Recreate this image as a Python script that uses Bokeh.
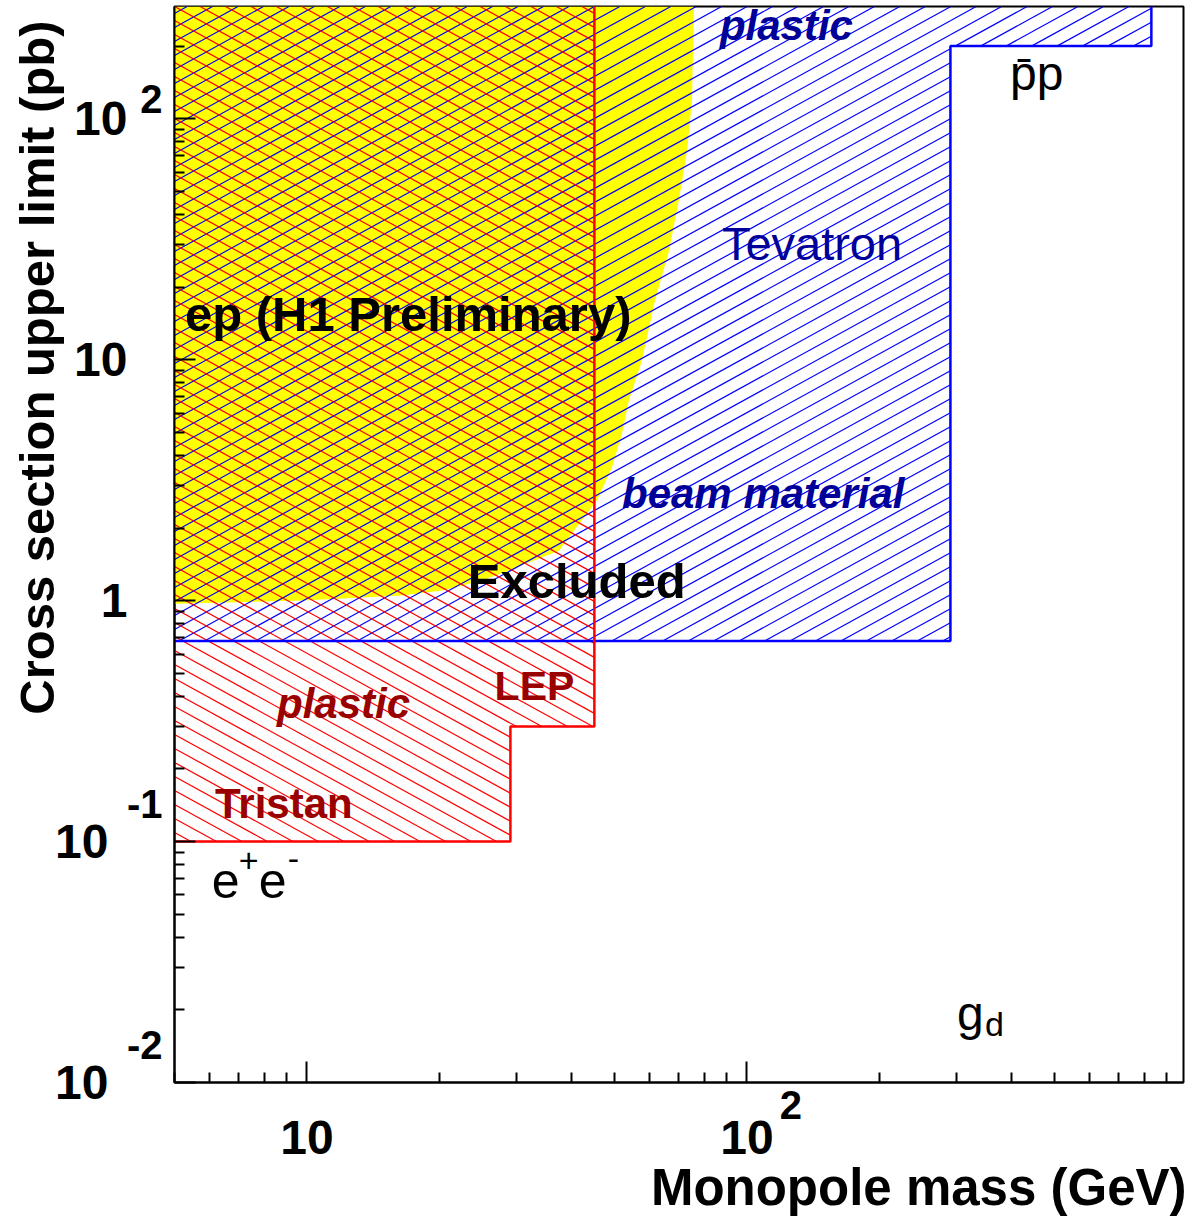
import math
from bokeh.plotting import figure
from bokeh.models import Label, FixedTicker, LogAxis, Title
from bokeh.embed import file_html
from bokeh.resources import INLINE

# ---- axis ranges -------------------------------------------------------
x_lo, x_hi = 5.0, 982.0        # monopole mass (GeV)
y_lo, y_hi = 0.01, 292.0       # cross-section upper limit (pb)

# ---- ep limit (H1 preliminary), region above/left is excluded ----------
ep_mass = [5.0, 9.8, 16.4, 20.3, 25.0, 30.8, 37.4, 40.0, 45.6, 49.3, 52.0,
           53.9, 57.7, 61.8, 66.5, 70.0, 73.1, 75.0, 75.8]
ep_xsec = [0.97, 1.0, 1.05, 1.1, 1.21, 1.4, 1.61, 1.9, 2.6, 3.56, 4.93,
           6.77, 9.9, 17.6, 28.3, 45.7, 73.6, 119.0, 292.0]

# ---- e+e- limits: Tristan and LEP (steps: mass edges, limit) -----------
ee_mass = [5.0, 29.0, 29.0, 45.0, 45.0]
ee_xsec = [0.1, 0.1, 0.3, 0.3, 292.0]

# ---- ppbar limits: Tevatron (beam material, plastic) -------------------
pp_mass = [5.0, 290.0, 290.0, 830.0, 830.0]
pp_xsec = [0.68, 0.68, 200.0, 200.0, 292.0]

# ---- tick labels ----------------------------------------------------------
x_major = [10, 100]
x_base_labels = ["10", "10"]
x_exp_labels = ["", "2"]
y_major = [0.01, 0.1, 1, 10, 100]
y_base_labels = ["10", "10", "1", "10", "10"]
y_exp_labels = ["-2", "-1", "", "", "2"]

FONT = "Liberation Sans"
W_FIG, H_FIG = 1186, 1218
B_LEFT, B_RIGHT, B_TOP, B_BOTTOM = 174, 3, 6, 136
W_FRAME = W_FIG - B_LEFT - B_RIGHT
H_FRAME = H_FIG - B_TOP - B_BOTTOM
PX_DEC_X = W_FRAME / (math.log10(x_hi) - math.log10(x_lo))
PX_DEC_Y = H_FRAME / (math.log10(y_hi) - math.log10(y_lo))

RED, BLUE, YELLOW = "#ff0000", "#0000ff", "#ffff00"
DARK_RED, DARK_BLUE = "#990000", "#000099"

p = figure(width=W_FIG, height=H_FIG, x_axis_type="log", y_axis_type="log",
           x_range=(x_lo, x_hi), y_range=(y_lo, y_hi),
           output_backend="svg", toolbar_location=None,
           min_border_left=B_LEFT, min_border_right=B_RIGHT,
           min_border_top=B_TOP, min_border_bottom=B_BOTTOM)
p.title.visible = False
p.background_fill_color = "white"
p.border_fill_color = "white"
p.outline_line_color = "black"
p.outline_line_width = 2
p.xgrid.visible = False
p.ygrid.visible = False

x_minor = [d * k for d in (1, 10, 100) for k in range(2, 10)]
y_minor = [d * k for d in y_major for k in range(2, 10)]
p.xaxis.ticker = FixedTicker(ticks=x_major, minor_ticks=x_minor)
p.yaxis.ticker = FixedTicker(ticks=y_major, minor_ticks=y_minor)
p.xaxis.major_label_overrides = {t: "" for t in x_major}
p.yaxis.major_label_overrides = {t: "" for t in y_major}
for ax in (p.xaxis, p.yaxis):
    ax.axis_line_width = 2
    ax.axis_line_color = "black"
    ax.major_tick_line_width = 2
    ax.minor_tick_line_width = 2
    ax.major_tick_in = 21
    ax.major_tick_out = 0
    ax.minor_tick_in = 10
    ax.minor_tick_out = 0
    ax.major_label_standoff = 0


def label_axis(side, ticks, labels, size, standoff):
    """A tick-less axis that only carries text at the given positions."""
    keep = [(t, s) for t, s in zip(ticks, labels) if s]
    ax = LogAxis(ticker=FixedTicker(ticks=[t for t, _ in keep], minor_ticks=[]),
                 major_label_overrides={t: s for t, s in keep},
                 major_label_standoff=standoff,
                 major_label_text_font=FONT,
                 major_label_text_font_size=f"{size}px",
                 major_label_text_font_style="bold",
                 major_label_text_color="black",
                 axis_line_color=None, major_tick_line_color=None,
                 minor_tick_line_color=None, major_tick_in=0, major_tick_out=0,
                 minor_tick_in=0, minor_tick_out=0)
    p.add_layout(ax, side)


# exponents sit up and to the right of their "10"
y_exp_pos = [t * 10 ** ((38 if t < 1 else 20) / PX_DEC_Y) for t in y_major]
x_exp_pos = [t * 10 ** (44 / PX_DEC_X) for t in x_major]

label_axis("below", x_exp_pos, x_exp_labels, 40, 8)
label_axis("below", x_major, x_base_labels, 48, -1)
label_axis("left", y_exp_pos, y_exp_labels, 40, 12)
label_axis("left", y_major, [s if t >= 1 else "" for t, s in zip(y_major, y_base_labels)], 48, -4)
label_axis("left", y_major, [s if t < 1 else "" for t, s in zip(y_major, y_base_labels)], 48, -37)

p.add_layout(Title(text="Monopole mass (GeV)", align="right", offset=-3,
                   standoff=0, text_font=FONT, text_font_size="51px",
                   text_font_style="bold", text_color="black"), "below")
p.add_layout(Title(text="Cross section upper limit (pb)", align="right",
                   offset=14, standoff=-22, text_font=FONT,
                   text_font_size="49px", text_font_style="bold",
                   text_color="black"), "left")

# ---- excluded ep region (yellow) ---------------------------------------
p.patch(x=[x_lo] + ep_mass + [x_lo], y=[ep_xsec[0]] + ep_xsec + [ep_xsec[-1]],
        fill_color=YELLOW, line_color=None)


# ---- hatching of step-shaped regions -----------------------------------
def step_rects(mass, xsec):
    """Rectangles (x0, x1, y0) making up a stepped region open to the top."""
    return [(mass[i], mass[i + 1], xsec[i]) for i in range(0, len(mass) - 1, 2)]


def hatch(rects, slope, spacing, phase=0.0):
    u0, w0 = math.log10(x_lo), math.log10(y_lo)
    xs, ys = [], []
    span = abs(slope) * W_FRAME
    c = -span - spacing + phase
    while c < H_FRAME + span + spacing:
        for (xa, xb, ya) in rects:
            Xa, Xb = (math.log10(xa) - u0) * PX_DEC_X, (math.log10(xb) - u0) * PX_DEC_X
            Ya, Yb = (math.log10(ya) - w0) * PX_DEC_Y, H_FRAME
            if slope > 0:
                lo, hi = max(Xa, (Ya - c) / slope), min(Xb, (Yb - c) / slope)
            else:
                lo, hi = max(Xa, (Yb - c) / slope), min(Xb, (Ya - c) / slope)
            if hi > lo:
                xs.append([10 ** (u0 + X / PX_DEC_X) for X in (lo, hi)])
                ys.append([10 ** (w0 + (slope * X + c) / PX_DEC_Y) for X in (lo, hi)])
        c += spacing
    return xs, ys


bx, by = hatch(step_rects(pp_mass, pp_xsec), 0.55, 14.0)
p.multi_line(bx, by, line_color=BLUE, line_width=1.2)
rx, ry = hatch(step_rects(ee_mass, ee_xsec), -0.55, 14.0, 7.0)
p.multi_line(rx, ry, line_color=RED, line_width=1.2)

# ---- limit boundaries ---------------------------------------------------
p.line(pp_mass, pp_xsec, line_color=BLUE, line_width=2.5)
p.line(ee_mass, ee_xsec, line_color=RED, line_width=2.5)


# ---- text inside the frame ----------------------------------------------
def lab(x, y, text, size, color="black", style="bold", dx=0, dy=0):
    p.add_layout(Label(x=x, y=y, text=text, x_offset=dx, y_offset=dy,
                       text_font=FONT, text_font_size=f"{size}px",
                       text_font_style=style, text_color=color,
                       text_align="left", text_baseline="alphabetic"))


lab(5.28, 15.5, "ep (H1 Preliminary)", 49)
lab(23.2, 1.21, "Excluded", 49)
lab(87.7, 30.3, "Tevatron", 47, color=DARK_BLUE, style="normal")
lab(52.0, 2.78, "beam material", 42, color=DARK_BLUE, style="bold italic")
lab(86.8, 243.0, "plastic", 42, color=DARK_BLUE, style="bold italic")
lab(396.0, 153.8, "p\u0304p", 48, style="normal")
lab(26.7, 0.44, "LEP", 41, color=DARK_RED)
lab(8.55, 0.374, "plastic", 42, color=DARK_RED, style="bold italic")
lab(6.18, 0.1435, "Tristan", 42, color=DARK_RED)

# e+e- and g_d
lab(6.08, 0.0689, "e", 50, style="normal")
lab(6.08, 0.0689, "+", 34, style="normal", dx=27, dy=20)
lab(6.08, 0.0689, "e", 50, style="normal", dx=47)
lab(6.08, 0.0689, "-", 34, style="normal", dx=76, dy=22)
lab(300.0, 0.0193, "g", 48, style="normal")
lab(300.0, 0.0193, "d", 34, style="normal", dx=28, dy=-10)

open("out.html", "w").write(file_html(p, INLINE))
